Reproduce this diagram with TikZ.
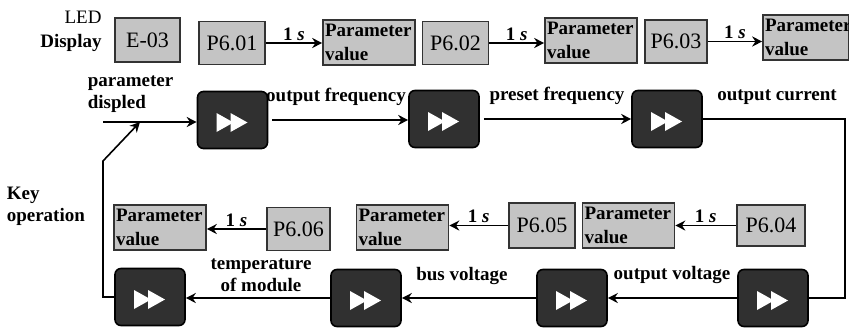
\documentclass[tikz,border=0pt]{standalone}
\usepackage{fontspec}
\setmainfont{Liberation Serif}[BoldFont={Liberation Serif Bold},ItalicFont={Liberation Serif Italic},BoldItalicFont={Liberation Serif Bold Italic}]
\usetikzlibrary{positioning,arrows.meta}
\definecolor{boxgray}{RGB}{196,196,196}
\definecolor{keygray}{RGB}{48,48,48}

\begin{document}
\begin{tikzpicture}[x=0.5pt,y=-0.5pt,>={Stealth[length=5pt,width=5pt]},line width=0.8pt,
  disp/.style={draw=black!80,fill=boxgray,minimum width=33pt,minimum height=21.5pt,inner sep=0pt,font=\fontsize{11}{11}\selectfont},
  pval/.style={draw=black!80,fill=boxgray,minimum height=22.5pt,inner sep=1pt,text width=44pt,align=left,font=\bfseries\fontsize{9.5}{12}\selectfont},
  keybox/.style={draw=black,fill=keygray,rounded corners=3pt,minimum width=35pt,minimum height=28.5pt,inner sep=0pt,
    path picture={
      \fill[white,sharp corners] ([xshift=-8pt,yshift=3.5pt]path picture bounding box.center) -- ++(8.5pt,-4.75pt) -- ++(-8.5pt,-4.75pt) -- cycle;
      \fill[white,sharp corners] ([xshift=-1pt,yshift=3.5pt]path picture bounding box.center) -- ++(8.5pt,-4.75pt) -- ++(-8.5pt,-4.75pt) -- cycle;}},
  lbl/.style={font=\bfseries\fontsize{9.5}{11}\selectfont,inner sep=1pt}]
\useasboundingbox (0,0) rectangle (849,327);

% top row: LED display
\node[align=right,anchor=east,font=\fontsize{9.5}{12}\selectfont] (led) at (109,31) {LED\\\textbf{Display}};
\node[disp,minimum width=32.5pt,minimum height=22pt] (e03) at (147.5,40) {E-03};
\node[disp] (p601) at (232,43) {P6.01};
\node[pval] (pv1) at (369,42.5) {Parameter\\value};
\node[disp] (p602) at (455.5,43) {P6.02};
\node[pval] (pv2) at (591,40.5) {Parameter\\value};
\node[disp,minimum width=31pt] (p603) at (676,41.5) {P6.03};
\node[pval,text width=41pt] (pv3) at (806,37.5) {Parameter\\value};

\draw[->] (p601.east) -- (p601.east -| pv1.west) node[midway,above,lbl]{1 \textit{s}};
\draw[->] (p602.east) -- (p602.east -| pv2.west) node[midway,above,lbl]{1 \textit{s}};
\draw[->] (p603.east) -- (p603.east -| pv3.west) node[midway,above,lbl]{1 \textit{s}};

% key row
\node[keybox] (k1) at (232.5,120) {};
\node[keybox] (k2) at (444,119) {};
\node[keybox] (k3) at (667,119) {};
\node[keybox] (k4) at (773,298) {};
\node[keybox] (k5) at (572,298) {};
\node[keybox] (k6) at (366,298) {};
\node[keybox] (k7) at (150,297) {};

\node[lbl,align=left,anchor=west] (pdisp) at (85,94) {parameter\\displed};
\node[lbl] (tof) at (336,97) {output frequency};
\node[lbl] (tpf) at (557,96) {preset frequency};
\node[lbl] (toc) at (777,97) {output current};
\node[lbl,align=left,anchor=west] (keyop) at (4,206) {Key\\operation};
\node[lbl,align=center] (ttm) at (261,275) {temperature\\of module};
\node[lbl] (tbv) at (462,276) {bus voltage};
\node[lbl] (tov) at (672,275) {output voltage};

\coordinate (kin) at (103,122);
\coordinate (kret) at (103,161);
\coordinate (kjoin) at (140,122);
\coordinate (rt) at (845,119);

\draw[->] (kin) -- (kin -| k1.west);
\draw[->,shorten <=2pt] (k1.east) -- (k1.east -| k2.west);
\draw[->,shorten <=2pt] (k2.east) -- (k3.west);
\draw (k3.east) -- (rt) |- (k4.east);
\draw[->] (k4.west) -- (k5.east);
\draw[->] (k5.west) -- (k6.east);
\draw[->] (k6.west) -- (k6.west -| k7.east);
\draw[->] (k7.west) -| (kret) -- (kjoin);

% bottom row: LED display
\node[pval] (pv6) at (160,227.5) {Parameter\\value};
\node[disp,minimum width=31.5pt] (p606) at (298.5,229) {P6.06};
\node[pval] (pv5) at (402.5,227.5) {Parameter\\value};
\node[disp,minimum height=22.5pt] (p605) at (542,225.5) {P6.05};
\node[pval] (pv4) at (628.5,225.5) {Parameter\\value};
\node[disp,minimum width=34pt,minimum height=20.5pt] (p604) at (771,225.5) {P6.04};

\draw[->] (p604.west) -- (p604.west -| pv4.east) node[midway,above,lbl]{1 \textit{s}};
\draw[->] (p605.west) -- (p605.west -| pv5.east) node[midway,above,lbl]{1 \textit{s}};
\draw[->] (p606.west) -- (p606.west -| pv6.east) node[midway,above,lbl]{1 \textit{s}};
\end{tikzpicture}
\end{document}
